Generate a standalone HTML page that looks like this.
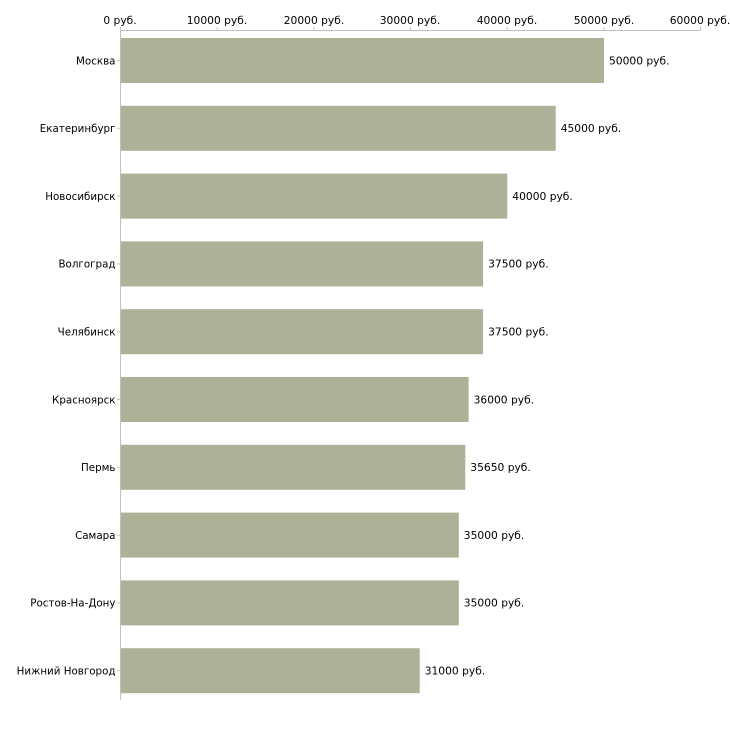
<!DOCTYPE html>
<html><head><meta charset="utf-8"><style>
html,body{margin:0;padding:0;background:#fff;}
svg{display:block;}
text{font-family:"DejaVu Sans","Liberation Sans",sans-serif;font-size:10.7px;fill:#000;}
text.c{font-size:10.3px;}
</style></head><body>
<svg width="730" height="730" viewBox="0 0 730 730" xmlns="http://www.w3.org/2000/svg">
<rect width="730" height="730" fill="#fff"/>
<!-- top axis -->
<line x1="120" y1="30.5" x2="700" y2="30.5" stroke="#c0c0c0" stroke-width="1"/>
<g stroke="#c4c8a8" stroke-width="1">
<line x1="120.5" y1="27" x2="120.5" y2="31"/>
<line x1="217.2" y1="27" x2="217.2" y2="31"/>
<line x1="313.8" y1="27" x2="313.8" y2="31"/>
<line x1="410.5" y1="27" x2="410.5" y2="31"/>
<line x1="507.2" y1="27" x2="507.2" y2="31"/>
<line x1="603.8" y1="27" x2="603.8" y2="31"/>
<line x1="700.5" y1="27" x2="700.5" y2="31"/>
</g>
<g text-anchor="middle">
<text x="120" y="24">0 руб.</text>
<text x="217" y="24">10000 руб.</text>
<text x="314" y="24">20000 руб.</text>
<text x="410" y="24">30000 руб.</text>
<text x="507" y="24">40000 руб.</text>
<text x="604" y="24">50000 руб.</text>
<text x="700" y="24">60000 руб.</text>
</g>
<!-- bars -->
<g fill="#acb197">
<rect x="121" y="38" width="483" height="45"/>
<rect x="121" y="105.8" width="434.7" height="45"/>
<rect x="121" y="173.6" width="386.3" height="45"/>
<rect x="121" y="241.4" width="362.1" height="45"/>
<rect x="121" y="309.2" width="362.1" height="45"/>
<rect x="121" y="377" width="347.6" height="45"/>
<rect x="121" y="444.8" width="344.3" height="45"/>
<rect x="121" y="512.6" width="337.8" height="45"/>
<rect x="121" y="580.4" width="337.8" height="45"/>
<rect x="121" y="648.2" width="298.7" height="45"/>
</g>
<!-- vertical axis -->
<line x1="120.5" y1="30" x2="120.5" y2="700" stroke="#c0c0c0" stroke-width="1"/>
<g stroke="#c4c8a8" stroke-width="1">
<line x1="117" y1="60.5" x2="120" y2="60.5"/>
<line x1="117" y1="128.3" x2="120" y2="128.3"/>
<line x1="117" y1="196.1" x2="120" y2="196.1"/>
<line x1="117" y1="263.9" x2="120" y2="263.9"/>
<line x1="117" y1="331.7" x2="120" y2="331.7"/>
<line x1="117" y1="399.5" x2="120" y2="399.5"/>
<line x1="117" y1="467.3" x2="120" y2="467.3"/>
<line x1="117" y1="535.1" x2="120" y2="535.1"/>
<line x1="117" y1="602.9" x2="120" y2="602.9"/>
<line x1="117" y1="670.7" x2="120" y2="670.7"/>
</g>
<g text-anchor="end">
<text class="c" x="115.5" y="64.3">Москва</text>
<text class="c" x="115.5" y="132.1">Екатеринбург</text>
<text class="c" x="115.5" y="199.9">Новосибирск</text>
<text class="c" x="115.5" y="267.7">Волгоград</text>
<text class="c" x="115.5" y="335.5">Челябинск</text>
<text class="c" x="115.5" y="403.3">Красноярск</text>
<text class="c" x="115.5" y="471.1">Пермь</text>
<text class="c" x="115.5" y="538.9">Самара</text>
<text class="c" x="115.5" y="606.7">Ростов-На-Дону</text>
<text class="c" x="115.5" y="674.5">Нижний Новгород</text>
</g>
<g>
<text x="609" y="64.3">50000 руб.</text>
<text x="560.7" y="132.1">45000 руб.</text>
<text x="512.3" y="199.9">40000 руб.</text>
<text x="488.1" y="267.7">37500 руб.</text>
<text x="488.1" y="335.5">37500 руб.</text>
<text x="473.6" y="403.3">36000 руб.</text>
<text x="470.3" y="471.1">35650 руб.</text>
<text x="463.8" y="538.9">35000 руб.</text>
<text x="463.8" y="606.7">35000 руб.</text>
<text x="424.7" y="674.5">31000 руб.</text>
</g>
</svg>
</body></html>
